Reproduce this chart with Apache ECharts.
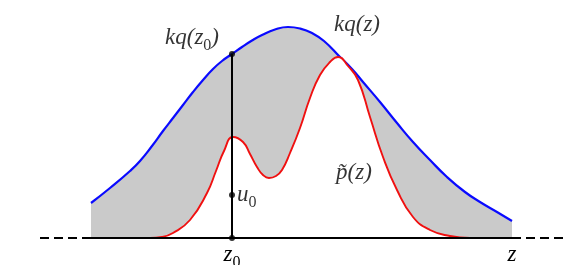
<!DOCTYPE html>
<html><head><meta charset="utf-8">
<script src="https://cdn.jsdelivr.net/npm/echarts@6/dist/echarts.min.js"></script>
<style>html,body{margin:0;padding:0;background:#fff}#c{width:583px;height:265px}</style>
</head><body><div id="c"></div>
<script>
// kq(z) envelope: [z, value]
const kqZ = [-2.82,-2.44,-2.04,-1.84,-1.60,-1.38,-1.18,-0.98,-0.78,-0.58,-0.38,-0.20,0,0.20,0.40,0.60,0.86,1.12,1.36,1.60,1.84,2.16,2.40,2.62,2.96,3.30,3.62,3.96,4.30,4.66,4.96,5.30,5.60];
const kqV = [0.35,0.50,0.67,0.77,0.92,1.07,1.20,1.33,1.46,1.58,1.69,1.77,1.84,1.91,1.975,2.03,2.085,2.11,2.095,2.05,1.97,1.81,1.69,1.56,1.36,1.15,0.96,0.78,0.61,0.46,0.36,0.26,0.17];
// p~(z) target
const pZ = [-1.64,-1.40,-1.18,-0.84,-0.50,-0.32,-0.16,0.02,0.22,0.36,0.50,0.62,0.74,0.88,1.00,1.16,1.36,1.56,1.76,1.96,2.12,2.32,2.52,2.76,3.02,3.30,3.62,3.96,4.36,4.76];
const pV = [0,0.01,0.05,0.18,0.45,0.67,0.87,1.01,0.96,0.84,0.71,0.63,0.60,0.62,0.68,0.85,1.10,1.40,1.63,1.76,1.81,1.72,1.58,1.21,0.81,0.48,0.21,0.08,0.02,0];
// points of interest
const z0 = 0;
const u0 = 0.43;
const kqAtZ0 = 1.84;
const axisStart = -3.84, axisEnd = 6.66;
const tickValues = [0, 5.60];

const serif = "Liberation Serif";
const rich = {
  a: {fontFamily: serif, fontStyle: 'italic', fontSize: 23, color: '#000', lineHeight: 26},
  s: {fontFamily: serif, fontStyle: 'normal', fontSize: 16, color: '#000', lineHeight: 26, verticalAlign: 'bottom', padding:[0,0,-3,0]}
};
function lbl(txt, sub, after){
  return '{a|' + txt + '}' + (sub ? '{s|' + sub + '}' : '') + (after ? '{a|' + after + '}' : '');
}
const baseText = {fontFamily: serif, fontStyle: 'italic', fontSize: 23, color: '#000'};

const chart = echarts.init(document.getElementById('c'), null, {renderer: 'canvas'});
chart.setOption({
  animation: false,
  textStyle: {fontFamily: serif},
  grid: {left: 32, right: 1, top: 0, bottom: 27, containLabel: false, outerBoundsMode: 'none'},
  xAxis: {type: 'value', min: -4, max: 7, axisLine: {show: false}, axisTick: {show: false},
    splitLine: {show: false},
    axisLabel: Object.assign({customValues: tickValues, margin: 4, rich: rich,
      formatter: function(v){ return Math.abs(v) < 1e-6 ? lbl('z', '0') : lbl('z'); }}, baseText)},
  yAxis: {type: 'value', min: 0, max: 2.38, show: false},
  series: [
    {type: 'line', data: kqZ.map((z,i)=>[z,kqV[i]]), smooth: 0.5, symbol: 'none',
      lineStyle: {color: '#0a0aff', width: 2.2}, areaStyle: {color: '#cacaca', opacity: 1}, z: 2},
    {type: 'line', data: pZ.map((z,i)=>[z,pV[i]]), smooth: 0.5, symbol: 'none',
      lineStyle: {color: '#f01010', width: 1.9}, areaStyle: {color: '#ffffff', opacity: 1}, z: 3},
    {type: 'line', data: [[axisStart,0],[kqZ[0],0]], symbol: 'none', lineStyle: {color:'#000', width: 2, type: [9,5]}, z: 4},
    {type: 'line', data: [[kqZ[kqZ.length-1],0],[axisEnd,0]], symbol: 'none', lineStyle: {color:'#000', width: 2, type: [9,5]}, z: 4},
    {type: 'line', data: [[kqZ[0],0],[kqZ[kqZ.length-1],0]], symbol: 'none', lineStyle: {color:'#000', width: 2}, z: 4},
    {type: 'line', data: [[z0,0],[z0,kqAtZ0]], symbol: 'none', lineStyle: {color:'#000', width: 2}, z: 5},
    {type: 'scatter', data: [[z0,0],[z0,u0],[z0,kqAtZ0]], symbolSize: 6, itemStyle: {color: '#000'}, z: 6,
      label: Object.assign({show: true, position: 'right', distance: 2, rich: rich,
        formatter: p => p.dataIndex === 1 ? lbl('u', '0') : ''}, baseText)},
    {type: 'scatter', symbolSize: 0, z: 7, silent: true,
      data: [
        {value: [-0.80, 2.00], name: 'kqz0'},
        {value: [2.50, 2.13], name: 'kqz'},
        {value: [2.44, 0.65], name: 'pz'}
      ],
      label: Object.assign({show: true, position: 'inside', rich: rich,
        formatter: p => p.name === 'kqz0' ? lbl('kq(z', '0', ')') : (p.name === 'kqz' ? lbl('kq(z)') : lbl('p\u0303(z)'))}, baseText)}
  ]
});
</script></body></html>
